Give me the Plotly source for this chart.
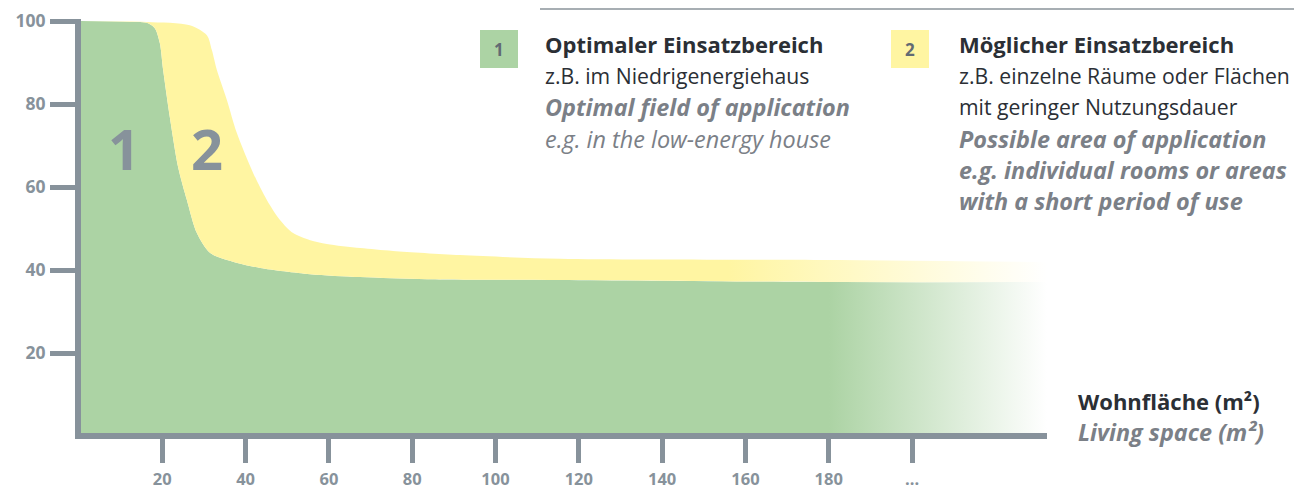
import plotly.graph_objects as go

# ---- data ----
green_x = [0, 12.2, 16.3, 18.2, 19.4, 20.2, 21.8, 23.8, 25.9, 28.3, 31.5, 38.0, 43.5, 55.5, 67.5, 83.6, 115.5, 182.7, 232.4]
green_y = [100, 99.8, 99.6, 98.3, 94.7, 88.2, 76.9, 64.8, 56.9, 48.9, 44.1, 41.7, 40.5, 39.0, 38.3, 37.8, 37.6, 37.1, 37.1]

yellow_x = [0, 16.3, 26.6, 30.7, 31.9, 33.1, 35.5, 37.9, 41.8, 45.1, 48.3, 51.4, 55.5, 59.5, 67.5, 75.4, 91.5, 115.5, 182.7, 232.4]
yellow_y = [100, 99.8, 99.0, 96.6, 93.0, 88.2, 81.0, 73.0, 63.4, 56.9, 52.0, 48.9, 47.2, 46.3, 45.3, 44.6, 43.6, 42.7, 42.4, 41.9]

x_tickvals = [20, 40, 60, 80, 100, 120, 140, 160, 180, 200]
x_ticktext = ["20", "40", "60", "80", "100", "120", "140", "160", "180", "..."]
y_tickvals = [20, 40, 60, 80, 100]
y_ticktext = ["20", "40", "60", "80", "100"]

legend1_lines = ["Optimaler Einsatzbereich", "z.B. im Niedrigenergiehaus",
                 "Optimal field of application", "e.g. in the low-energy house"]
legend2_lines = ["Möglicher Einsatzbereich", "z.B. einzelne Räume oder Flächen",
                 "mit geringer Nutzungsdauer", "Possible area of application",
                 "e.g. individual rooms or areas", "with a short period of use"]
axis_title_lines = ["Wohnfläche (m²)", "Living space (m²)"]

# ---- styles ----
GREEN = "rgb(172,211,164)"
YELLOW = "rgb(255,245,162)"
WHITE = "rgb(255,255,255)"
AXIS = "#87929b"
DARK = "#2b2f35"
GREY_TXT = "#7b8087"
FONT = "Open Sans"

# plot area in page pixels
L, R, T, B = 81, 1047, 19, 433
W, H = R - L, B - T
BODY = 8            # page body margin around the plot div
FIG_W, FIG_H = 1302 - BODY, 492 - BODY


def px(x):
    return (x - L) / W


def py(y):
    return (B - y) / H


fig = go.Figure()

fig.add_trace(go.Scatter(
    x=green_x, y=green_y, mode="lines", line=dict(width=0, shape="spline", smoothing=0.8),
    fill="tozeroy",
    fillgradient=dict(type="horizontal", start=0, stop=232.4,
                      colorscale=[[0, GREEN], [0.775, GREEN], [1, WHITE]]),
    hoverinfo="skip", showlegend=False))

fig.add_trace(go.Scatter(
    x=yellow_x, y=yellow_y, mode="lines", line=dict(width=0, shape="spline", smoothing=0.8),
    fill="tonexty",
    fillgradient=dict(type="horizontal", start=0, stop=232.4,
                      colorscale=[[0, YELLOW], [0.67, YELLOW], [1, WHITE]]),
    hoverinfo="skip", showlegend=False))

annotations = []
shapes = []

# Big region numbers
for num, xv in (("1", 10.8), ("2", 30.7)):
    annotations.append(dict(x=xv, y=69.4, xref="x", yref="y", text=f"<b>{num}</b>",
                            showarrow=False, font=dict(family=FONT, size=56, color=AXIS),
                            xanchor="center", yanchor="middle"))

# top rule
shapes.append(dict(type="line", xref="paper", yref="paper", x0=px(540), x1=px(1297),
                   y0=py(9), y1=py(9), line=dict(color="#8a939a", width=1.5)))

# legend boxes
for (x0, x1, col, num) in ((480, 518, GREEN, "1"), (891, 929, YELLOW, "2")):
    shapes.append(dict(type="rect", xref="paper", yref="paper", x0=px(x0), x1=px(x1),
                       y0=py(68), y1=py(30), fillcolor=col, line=dict(width=0)))
    annotations.append(dict(x=px((x0 + x1) / 2), y=py(49), xref="paper", yref="paper",
                            text=f"<b>{num}</b>", showarrow=False,
                            font=dict(family=FONT, size=17, color="#626a73"),
                            xanchor="center", yanchor="middle"))


def add_line(text, x, y, style):
    if style == "title":
        t, col, size = f"<b>{text}</b>", DARK, 22
    elif style == "plain":
        t, col, size = text, DARK, 21.2
    elif style == "bi":
        t, col, size = f"<b><i>{text}</i></b>", GREY_TXT, 23.4
    else:
        t, col, size = f"<i>{text}</i>", GREY_TXT, 23.4
    annotations.append(dict(x=px(x), y=py(y), xref="paper", yref="paper", text=t,
                            showarrow=False, font=dict(family=FONT, size=size, color=col),
                            xanchor="left", yanchor="middle"))


styles1 = ["title", "plain", "bi", "i"]
for i, (line, st) in enumerate(zip(legend1_lines, styles1)):
    add_line(line, 543, 44 + i * 31.5, st)

styles2 = ["title", "plain", "plain", "bi", "bi", "bi"]
for i, (line, st) in enumerate(zip(legend2_lines, styles2)):
    add_line(line, 957, 44 + i * 31.5, st)

add_line(axis_title_lines[0], 1076, 401, "title")
add_line(axis_title_lines[1], 1076, 432, "bi")

fig.update_layout(
    width=FIG_W, height=FIG_H,
    margin=dict(l=L - BODY, r=1302 - R, t=T - BODY, b=492 - B, pad=0, autoexpand=False),
    paper_bgcolor="white", plot_bgcolor="white",
    showlegend=False,
    annotations=annotations, shapes=shapes,
    xaxis=dict(range=[0.48, 232.4], showgrid=False, zeroline=False, automargin=False,
               showline=True, linewidth=6, linecolor=AXIS,
               ticks="outside", ticklen=24, tickwidth=5, tickcolor=AXIS,
               tickvals=x_tickvals, ticktext=x_ticktext, ticklabelstandoff=2,
               tickfont=dict(family=FONT, size=16.5, color=AXIS, weight="bold")),
    yaxis=dict(range=[0.73, 100.5], showgrid=False, zeroline=False, automargin=False,
               showline=True, linewidth=6, linecolor=AXIS,
               ticks="outside", ticklen=25, tickwidth=5, tickcolor=AXIS,
               tickvals=y_tickvals, ticktext=y_ticktext, ticklabelstandoff=1,
               tickfont=dict(family=FONT, size=17.5, color=AXIS, weight="bold")),
)

fig.write_html("out.html")
